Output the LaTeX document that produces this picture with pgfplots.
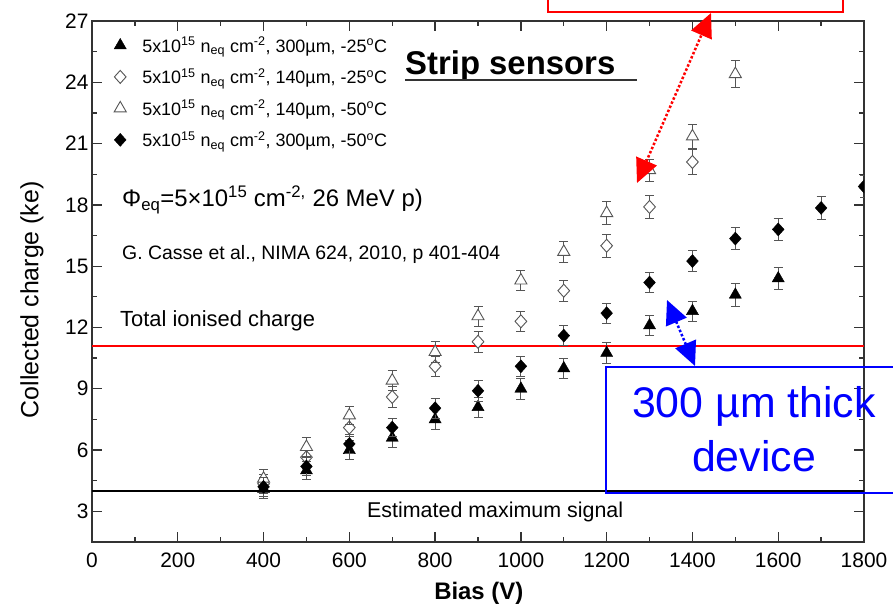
\documentclass[border=0pt]{standalone}
\usepackage{pgfplots}
\pgfplotsset{compat=1.18}
\usepackage{fontspec}
\setmainfont{Liberation Sans}
\usetikzlibrary{arrows.meta}
\definecolor{axgray}{HTML}{333333}
\definecolor{mkgray}{HTML}{555555}
\pgfplotsset{
  ebar/.style={error bars/.cd, y dir=both, y explicit,
    error bar style={mkgray, line width=0.8bp, solid},
    error mark options={rotate=90, mark size=4.5bp, mkgray, line width=0.8bp, solid}},
}
\begin{document}
\begin{tikzpicture}
\useasboundingbox (0,0) rectangle (893bp,607bp);
\begin{axis}[
  at={(92bp,65bp)}, anchor=south west,
  scale only axis, width=772bp, height=521bp,
  xmin=0, xmax=1800, ymin=1.5, ymax=27,
  xtick={0,200,...,1800}, ytick={3,6,...,27},
  minor x tick num=1, minor y tick num=1,
  major tick length=10bp, minor tick length=5bp,
  tick style={axgray, line width=1.3bp},
  axis line style={axgray, line width=1.5bp},
  tick align=inside,
  /pgf/number format/assume math mode=true,
  /pgf/number format/1000 sep={},
  tick label style={font=\fontsize{21}{25}\selectfont, text=black},
  xticklabel style={yshift=-7bp},
  xlabel={Bias (V)},
  ylabel={Collected charge (ke)},
  xlabel style={font=\fontsize{24}{28}\selectfont\bfseries, at={(axis description cs:0.501,0)}, anchor=base, yshift=-57bp},
  ylabel style={font=\fontsize{25}{30}\selectfont, at={(axis description cs:-0.0777,0.465)}, anchor=center},
  clip marker paths=true,
  legend style={draw=none, fill=none, at={(axis description cs:0.0246,0.977)}, anchor=north west,
    font=\fontsize{18}{21}\selectfont, row sep=11bp, column sep=14bp},
  legend cell align=left,
]
\addplot[red, line width=2bp, forget plot] coordinates {(0,11.1) (1800,11.1)};
\addplot[black, line width=2bp, forget plot] coordinates {(0,4.0) (1800,4.0)};

\addplot[only marks, mark=triangle*, mark size=7bp, mark options={black, fill=black}, ebar] table[x=x, y=y, y error=e] {
x y e
400 4.1 0.45
500 5.0 0.45
600 6.0 0.45
700 6.6 0.45
800 7.5 0.5
900 8.1 0.5
1000 9.0 0.5
1100 10.0 0.5
1200 10.75 0.5
1300 12.1 0.5
1400 12.8 0.5
1500 13.6 0.55
1600 14.4 0.55
};
\addlegendentry{5x10\textsuperscript{15} n\textsubscript{eq} cm\textsuperscript{-2}, 300µm, -25\textsuperscript{o}C}

\addplot[only marks, mark=diamond*, mark size=6.5bp, mark options={mkgray, fill=white, line width=0.9bp, xscale=1.2}, ebar] table[x=x, y=y, y error=e] {
x y e
400 4.35 0.45
500 5.65 0.45
600 7.1 0.45
700 8.6 0.5
800 10.1 0.5
900 11.3 0.5
1000 12.3 0.5
1100 13.8 0.5
1200 16.0 0.55
1300 17.9 0.55
1400 20.1 0.6
};
\addlegendentry{5x10\textsuperscript{15} n\textsubscript{eq} cm\textsuperscript{-2}, 140µm, -25\textsuperscript{o}C}

\addplot[only marks, mark=triangle*, mark size=7bp, mark options={mkgray, fill=white, line width=0.9bp}, ebar] table[x=x, y=y, y error=e] {
x y e
400 4.6 0.45
500 6.15 0.45
600 7.7 0.45
700 9.4 0.5
800 10.8 0.5
900 12.55 0.5
1000 14.3 0.5
1100 15.7 0.5
1200 17.6 0.55
1300 19.7 0.55
1400 21.35 0.6
1500 24.4 0.65
};
\addlegendentry{5x10\textsuperscript{15} n\textsubscript{eq} cm\textsuperscript{-2}, 140µm, -50\textsuperscript{o}C}

\addplot[only marks, mark=diamond*, mark size=6.5bp, mark options={black, fill=black, xscale=1.2}, ebar] table[x=x, y=y, y error=e] {
x y e
400 4.2 0.45
500 5.2 0.45
600 6.3 0.45
700 7.1 0.45
800 8.05 0.5
900 8.9 0.5
1000 10.1 0.5
1100 11.6 0.5
1200 12.7 0.5
1300 14.2 0.5
1400 15.25 0.5
1500 16.35 0.55
1600 16.8 0.55
1700 17.85 0.55
1800 18.9 0.55
};
\addlegendentry{5x10\textsuperscript{15} n\textsubscript{eq} cm\textsuperscript{-2}, 300µm, -50\textsuperscript{o}C}
\end{axis}

\begin{scope}[x=1bp, y=-1bp, shift={(0bp,607bp)}]
\node[anchor=base west, inner sep=0, font=\fontsize{33}{40}\selectfont\bfseries] at (405,75) {Strip sensors};
\draw[line width=1.5bp, axgray] (405,80) -- (637,80);
\node[anchor=base west, inner sep=0, font=\fontsize{24}{29}\selectfont] at (122,207) {Φ\textsubscript{eq}=5×10\textsuperscript{15} cm\textsuperscript{-2,} 26 MeV p)};
\node[anchor=base west, inner sep=0, font=\fontsize{19.5}{23}\selectfont] at (122,260) {G. Casse et al., NIMA 624, 2010, p 401-404};
\node[anchor=base west, inner sep=0, font=\fontsize{22}{26}\selectfont] at (120,327) {Total ionised charge};
\node[anchor=base west, inner sep=0, font=\fontsize{21.5}{26}\selectfont] at (367,518) {Estimated maximum signal};
% blue annotation
\draw[blue, line width=1.5bp] (900,367) -- (606,367) -- (606,493) -- (900,493);
\node[anchor=base, inner sep=0, font=\fontsize{43}{52}\selectfont, text=blue] at (754,418) {300 µm thick};
\node[anchor=base, inner sep=0, font=\fontsize{43}{52}\selectfont, text=blue] at (754,472) {device};
\draw[blue, line width=2.5bp, dash pattern=on 2.5bp off 2bp, {Triangle[length=24bp,width=22bp]}-{Triangle[length=24bp,width=22bp]}] (667,300) -- (695,366);
% red annotation
\draw[red, line width=1.5bp] (548,-20) -- (548,12) -- (843,12) -- (843,-20);
\draw[red, line width=2.5bp, dash pattern=on 2.5bp off 2bp, {Triangle[length=24bp,width=22bp]}-{Triangle[length=24bp,width=22bp]}] (637,183) -- (711,13);
\end{scope}
\end{tikzpicture}
\end{document}
